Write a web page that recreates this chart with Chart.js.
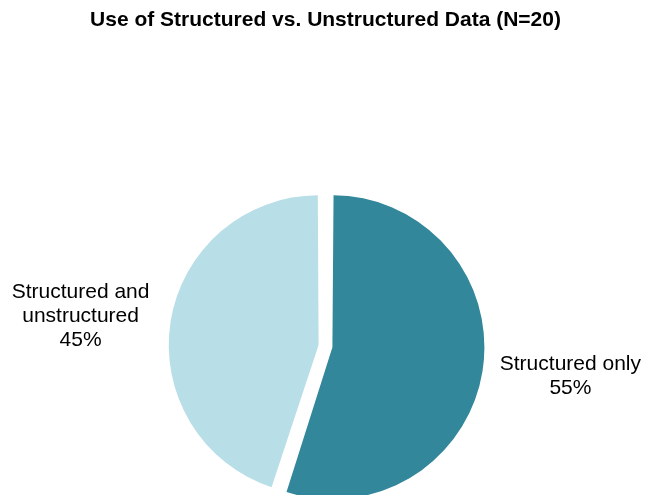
<!DOCTYPE html>
<html>
<head>
<meta charset="utf-8">
<script src="https://cdn.jsdelivr.net/npm/chart.js@4"></script>
<style>
    html, body { margin: 0; padding: 0; background: #fff; overflow: hidden; }
    #wrap { width: 645px; height: 495px; }
</style>
</head>
<body>
<div id="wrap"><canvas id="pieChart"></canvas></div>
<script>
const chartTitle = 'Use of Structured vs. Unstructured Data (N=20)';
const categories = ['Structured only', ['Structured and', 'unstructured']];
const shares = [55, 45];
const sliceColors = ['#32879b', '#b8dee7'];

// draws the category + percent next to each slice
const outsideLabels = {
    id: 'outsideLabels',
    afterDatasetsDraw(chart) {
        const ctx = chart.ctx;
        const meta = chart.getDatasetMeta(0);
        ctx.save();
        ctx.font = '21px "Liberation Sans", Arial, sans-serif';
        ctx.fillStyle = '#000';
        ctx.textAlign = 'center';
        ctx.textBaseline = 'middle';
        meta.data.forEach((arc, i) => {
            const p = arc.getProps(['x', 'y', 'startAngle', 'endAngle', 'outerRadius'], true);
            const mid = (p.startAngle + p.endAngle) / 2;
            const lx = p.x + Math.cos(mid) * p.outerRadius * 1.71;
            const ly = p.y + Math.sin(mid) * p.outerRadius * 1.33;
            let lines = [].concat(categories[i]);
            lines.push(shares[i] + '%');
            const lh = 24;
            lines.forEach((t, k) => {
                ctx.fillText(t, lx, ly + (k - (lines.length - 1) / 2) * lh);
            });
        });
        ctx.restore();
    }
};

new Chart(document.getElementById('pieChart'), {
    type: 'pie',
    data: {
        labels: categories,
        datasets: [{
            data: shares,
            backgroundColor: sliceColors,
            borderWidth: 0,
            offset: 28
        }]
    },
    options: {
        responsive: true,
        maintainAspectRatio: false,
        animation: false,
        radius: 145,
        layout: {
            padding: { left: 6, right: 0, top: 0, bottom: 0 }
        },
        plugins: {
            legend: { display: false },
            tooltip: { enabled: false },
            title: {
                display: true,
                text: chartTitle,
                color: '#000',
                font: { family: '"Liberation Sans", Arial, sans-serif', size: 21, weight: 'bold' },
                padding: { top: 8, bottom: 164 }
            }
        }
    },
    plugins: [outsideLabels]
});
</script>
</body>
</html>
